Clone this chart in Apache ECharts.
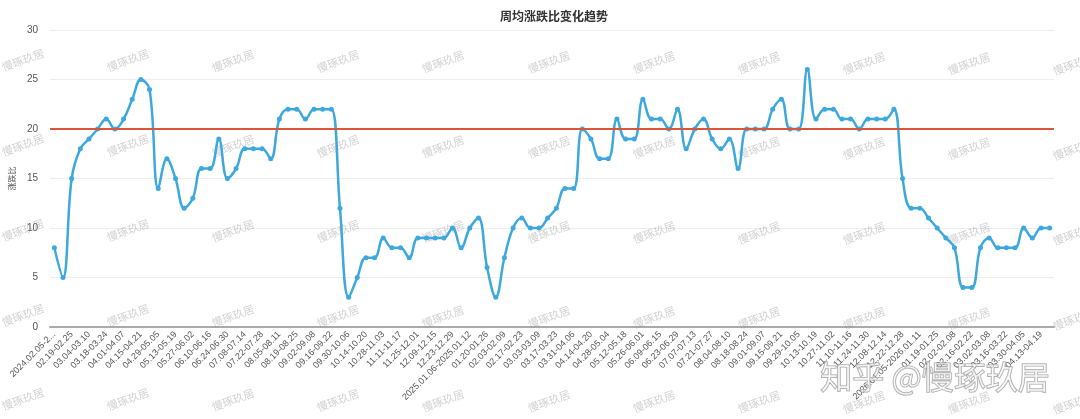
<!DOCTYPE html>
<html>
<head>
<meta charset="utf-8">
<script src="https://cdn.jsdelivr.net/npm/echarts@6/dist/echarts.min.js"></script>
<style>
html,body{margin:0;padding:0;background:#fff;}
#main{width:1080px;height:419px;}
</style>
</head>
<body>
<div id="main"></div>
<script>
var titleText = '周均涨跌比变化趋势';
var yName = '涨跌比';
var categories = [
'2024.02.05-2024.02.11','02.12-02.18','02.19-02.25','02.26-03.03','03.04-03.10','03.11-03.17','03.18-03.24','03.25-03.31',
'04.01-04.07','04.08-04.14','04.15-04.21','04.22-04.28','04.29-05.05','05.06-05.12','05.13-05.19','05.20-05.26',
'05.27-06.02','06.03-06.09','06.10-06.16','06.17-06.23','06.24-06.30','07.01-07.07','07.08-07.14','07.15-07.21',
'07.22-07.28','07.29-08.04','08.05-08.11','08.12-08.18','08.19-08.25','08.26-09.01','09.02-09.08','09.09-09.15',
'09.16-09.22','09.23-09.29','09.30-10.06','10.07-10.13','10.14-10.20','10.21-10.27','10.28-11.03','11.04-11.10',
'11.11-11.17','11.18-11.24','11.25-12.01','12.02-12.08','12.09-12.15','12.16-12.22','12.23-12.29','12.30-01.05',
'2025.01.06-2025.01.12','01.13-01.19','01.20-01.26','01.27-02.02','02.03-02.09','02.10-02.16','02.17-02.23','02.24-03.02',
'03.03-03.09','03.10-03.16','03.17-03.23','03.24-03.30','03.31-04.06','04.07-04.13','04.14-04.20','04.21-04.27',
'04.28-05.04','05.05-05.11','05.12-05.18','05.19-05.25','05.26-06.01','06.02-06.08','06.09-06.15','06.16-06.22',
'06.23-06.29','06.30-07.06','07.07-07.13','07.14-07.20','07.21-07.27','07.28-08.03','08.04-08.10','08.11-08.17',
'08.18-08.24','08.25-08.31','09.01-09.07','09.08-09.14','09.15-09.21','09.22-09.28','09.29-10.05','10.06-10.12',
'10.13-10.19','10.20-10.26','10.27-11.02','11.03-11.09','11.10-11.16','11.17-11.23','11.24-11.30','12.01-12.07',
'12.08-12.14','12.15-12.21','12.22-12.28','12.29-01.04',
'2026.01.05-2026.01.11','01.12-01.18','01.19-01.25','01.26-02.01','02.02-02.08','02.09-02.15','02.16-02.22','02.23-03.01',
'03.02-03.08','03.09-03.15','03.16-03.22','03.23-03.29','03.30-04.05','04.06-04.12','04.13-04.19','04.20-04.26'
];
var ratioValues = [
8,5,15,18,19,20,21,20,21,23,25,24,14,17,15,12,
13,16,16,19,15,16,18,18,18,17,21,22,22,21,22,22,
22,12,3,5,7,7,9,8,8,7,9,9,9,9,10,8,
10,11,6,3,7,10,11,10,10,11,12,14,14,20,19,17,
17,21,19,19,23,21,21,20,22,18,20,21,19,18,19,16,
20,20,20,22,23,20,20,26,21,22,22,21,21,20,21,21,
21,22,15,12,12,11,10,9,8,4,4,8,9,8,8,8,
10,9,10,10
];
var thresholdValue = 20;
var yTicks = {min: 0, max: 30, interval: 5};
var watermarkText = '慢琢玖居';
var bigWatermark = '知乎 @慢琢玖居';

var chart = echarts.init(document.getElementById('main'), null, {renderer: 'canvas'});

var graphics = [];
var colsX = [23,128,233,338,443,549,654,759,864,969,1074];
var rowsY = [60,145,230,315,399];
rowsY.forEach(function (yy) {
  colsX.forEach(function (xx, ci) {
    graphics.push({
      type: 'text', x: xx, y: yy + ci * 0.4, rotation: 20 * Math.PI / 180, z: 1, silent: true,
      style: {text: watermarkText, fill: 'rgba(140,140,140,0.4)', font: '11px "Noto Sans CJK SC", sans-serif',
        textAlign: 'center', textVerticalAlign: 'middle'}
    });
  });
});
graphics.push({
  type: 'text', x: 935, y: 377, z: 100, silent: true,
  style: {text: bigWatermark, fill: 'rgba(255,255,255,0.55)', stroke: 'rgba(140,140,140,0.8)', lineWidth: 1.2,
    font: '32px "Noto Sans CJK SC", sans-serif', textAlign: 'center', textVerticalAlign: 'middle'}
});

chart.setOption({
  backgroundColor: '#fff',
  animation: false,
  title: {
    text: titleText, left: 549, top: 5, textAlign: 'center',
    textStyle: {fontSize: 12, fontWeight: 'bold', color: '#333', fontFamily: '"Noto Sans CJK SC", sans-serif'}
  },
  grid: {left: 47, right: 26, top: 30, bottom: 92, containLabel: false},
  xAxis: {
    type: 'category', data: categories, boundaryGap: true,
    axisLine: {lineStyle: {color: '#aaa', width: 2}},
    axisTick: {show: false},
    axisLabel: {
      interval: 1, rotate: 45, fontSize: 9, color: '#555', margin: 6,
      fontFamily: '"Liberation Sans", Arial, sans-serif',
      formatter: function (v, i) { return i === 0 ? v.slice(0, 12) + '...' : v; }
    }
  },
  yAxis: {
    type: 'value', min: yTicks.min, max: yTicks.max, interval: yTicks.interval,
    name: yName, nameLocation: 'middle', nameRotate: 90, nameGap: 30,
    nameTextStyle: {fontSize: 8, color: '#555', fontFamily: '"Noto Sans CJK SC", sans-serif'},
    axisLine: {show: false}, axisTick: {show: false},
    axisLabel: {fontSize: 10, color: '#555', margin: 12, fontFamily: '"Liberation Sans", Arial, sans-serif'},
    splitLine: {lineStyle: {color: '#eeeeee', width: 1}}
  },
  series: [{
    type: 'line', data: ratioValues, smooth: 0.4, z: 3,
    symbol: 'circle', symbolSize: 5, showSymbol: true,
    lineStyle: {color: '#3da8dd', width: 2.5},
    itemStyle: {color: '#3da8dd'},
    markLine: {
      silent: true, symbol: ['none', 'none'], label: {show: false},
      lineStyle: {color: '#d7563c', width: 2, type: 'solid'},
      data: [{yAxis: thresholdValue}]
    }
  }],
  graphic: graphics
});
</script>
</body>
</html>
